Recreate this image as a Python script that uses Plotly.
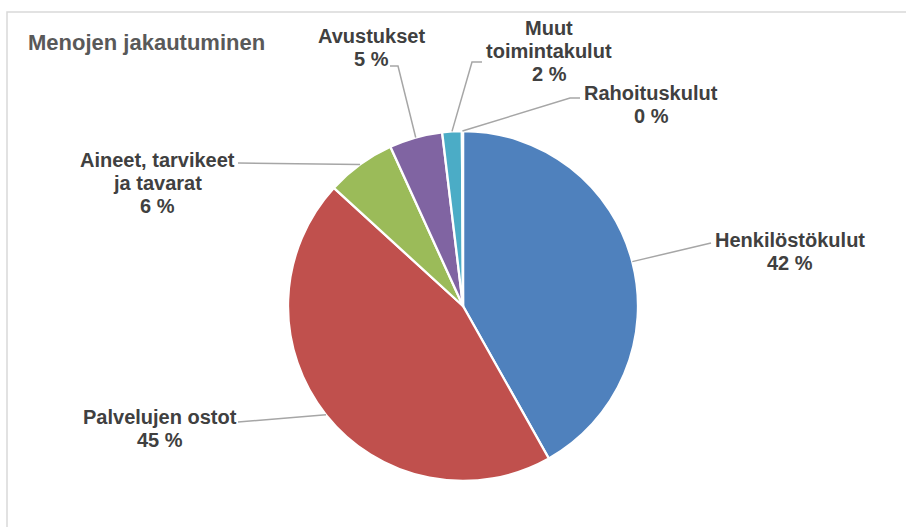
import math
import plotly.graph_objects as go

# ---- data ----
categories = ["Henkilöstökulut", "Palvelujen ostot", "Aineet, tarvikeet ja tavarat",
              "Avustukset", "Muut toimintakulut", "Rahoituskulut"]
values = [41.8, 44.9, 6.4, 4.9, 1.8, 0.1]
label_lines = [["Henkilöstökulut"], ["Palvelujen ostot"], ["Aineet, tarvikeet", "ja tavarat"],
               ["Avustukset"], ["Muut", "toimintakulut"], ["Rahoituskulut"]]
colors = ["#4F81BD", "#C0504D", "#9BBB59", "#8064A2", "#4BACC6", "#F79646"]
title = "Menojen jakautuminen"

# ---- layout constants (pixels) ----
W, H = 906, 527
CX, CY, R = 463, 306, 175
# label block centre x, first line centre y
label_pos = [(790, 240), (160, 417), (157, 160), (371, 36), (549, 28), (651, 93)]
# leader line points after the pie edge point
leader_pts = [[(711, 243)], [(238, 422)], [(238, 163)], [(398, 66), (390, 66)],
              [(472, 62), (482, 62)], [(570, 98), (580, 98)]]
LINE_H = 23
FONT = "Arial, Liberation Sans, sans-serif"

def px(x):
    return x / W

def py(y):
    return 1 - y / H

fig = go.Figure(go.Pie(
    labels=categories, values=values, sort=False, direction="clockwise", rotation=0,
    marker=dict(colors=colors, line=dict(color="white", width=2.3)),
    textinfo="none", hoverinfo="label+percent", showlegend=False,
    domain=dict(x=[px(CX - R), px(CX + R)], y=[py(CY + R), py(CY - R)]),
))

total = sum(values)
annotations = []
shapes = []
cum = 0.0
for i, v in enumerate(values):
    mid = (cum + v / 2) / total * 2 * math.pi
    cum += v
    ex = CX + R * math.sin(mid)
    ey = CY - R * math.cos(mid)
    pts = [(ex, ey)] + leader_pts[i]
    path = "M " + " L ".join(f"{px(a)},{py(b)}" for a, b in pts)
    shapes.append(dict(type="path", xref="paper", yref="paper", path=path,
                       line=dict(color="#A6A6A6", width=1.5)))
    lines = label_lines[i] + [f"{round(v / total * 100)} %"]
    lx, ly = label_pos[i]
    for k, t in enumerate(lines):
        annotations.append(dict(x=px(lx), y=py(ly + k * LINE_H), xref="paper", yref="paper",
                                text=f"<b>{t}</b>", showarrow=False, xanchor="center",
                                yanchor="middle",
                                font=dict(family=FONT, size=20, color="#404040")))

annotations.append(dict(x=px(26), y=py(43), xref="paper", yref="paper", text=f"<b>{title}</b>",
                        showarrow=False, xanchor="left", yanchor="middle",
                        font=dict(family=FONT, size=22, color="#595959")))

# chart area border
shapes.append(dict(type="rect", xref="paper", yref="paper", x0=px(7), y0=-0.1, x1=1.1, y1=py(12),
                   line=dict(color="#D9D9D9", width=1.5), fillcolor="rgba(0,0,0,0)", layer="below"))

fig.update_layout(width=W, height=H, margin=dict(l=0, r=0, t=0, b=0),
                  paper_bgcolor="white", plot_bgcolor="white",
                  annotations=annotations, shapes=shapes)

fig.write_html("out.html", config={"displayModeBar": False},
               post_script="document.body.style.margin='0';document.body.style.padding='0';")
